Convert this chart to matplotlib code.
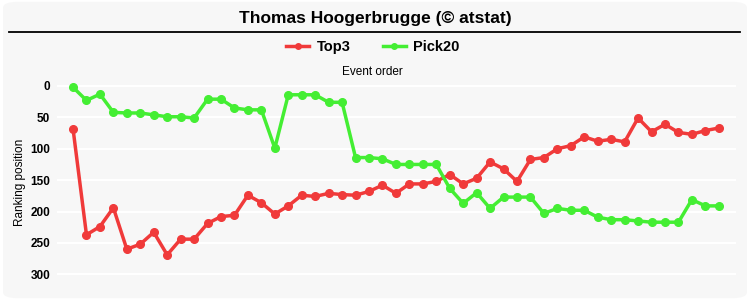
import matplotlib
matplotlib.use('Agg')
import matplotlib.pyplot as plt
from matplotlib.patches import FancyBboxPatch
from matplotlib.lines import Line2D

title = 'Thomas Hoogerbrugge (© atstat)'
series_names = ['Top3', 'Pick20']

top3 = [68, 237, 224, 194, 260, 252, 233, 269, 244, 244, 219, 208, 206, 174,
        186, 204, 191, 174, 176, 171, 173, 174, 168, 158, 171, 156, 156, 152,
        141, 156, 147, 121, 132, 152, 117, 114, 100, 95, 81, 88, 85, 89,
        51, 73, 61, 74, 77, 71, 67]
pick20 = [2, 23, 13, 42, 43, 43, 46, 49, 49, 51, 21, 21, 35, 38,
          38, 99, 14, 14, 14, 26, 26, 114, 114, 116, 125, 125, 125, 125,
          163, 187, 170, 195, 177, 177, 177, 203, 195, 198, 198, 209, 213, 213,
          215, 217, 217, 217, 181, 191, 191]
yticks = [0, 50, 100, 150, 200, 250, 300]

red = '#f03a3a'
green = '#44ee33'
bg = '#f7f7f7'
font = ['Liberation Sans Narrow', 'Liberation Sans', 'DejaVu Sans']
plt.rcParams['font.family'] = font

fig = plt.figure(figsize=(7.5, 3), dpi=100)
fig.patch.set_facecolor('white')
fig.patches.append(FancyBboxPatch((0.004, 0.006), 0.992, 0.988,
                                  boxstyle='round,pad=0,rounding_size=0.02',
                                  transform=fig.transFigure, facecolor=bg,
                                  edgecolor='none', zorder=-5))

ax = fig.add_axes([0.076, 0.0333, 0.905, 0.7167])
ax.set_facecolor(bg)
x = list(range(len(top3)))
ax.plot(x, top3, '-o', color=red, lw=2.5, ms=5.5, zorder=3)
ax.plot(x, pick20, '-o', color=green, lw=2.5, ms=5.5, zorder=3)

ax.set_xlim(-1.19, 49.26)
ax.set_ylim(325, -17.5)
ax.set_yticks(yticks)
ax.set_xticks([])
for s in ax.spines.values():
    s.set_visible(False)
ax.set_axisbelow(True)
ax.grid(axis='y', color='white', lw=1.5)
ax.tick_params(axis='y', length=0, pad=5)
for lb in ax.get_yticklabels():
    lb.set_fontweight('bold')
    lb.set_fontsize(8.5)
    lb.set_family(['Liberation Sans', 'DejaVu Sans'])
ax.set_ylabel('Ranking position', fontsize=8.5,
              family=['Liberation Sans', 'DejaVu Sans'])
ax.yaxis.set_label_coords(-0.046, 0.5)

fig.text(0.5, 0.94, title, ha='center', va='center', fontsize=12.5,
         fontweight='bold')
fig.add_artist(Line2D([0.012, 0.987], [0.893, 0.893], color='black', lw=1.3,
                      transform=fig.transFigure))
fig.text(0.496, 0.76, 'Event order', ha='center', va='center', fontsize=8.5,
         family=['Liberation Sans', 'DejaVu Sans'])

handles = [Line2D([], [], color=red, marker='o', lw=2.5, ms=4),
           Line2D([], [], color=green, marker='o', lw=2.5, ms=4)]
leg = fig.legend(handles, series_names, loc='center', bbox_to_anchor=(0.497, 0.843),
                 ncol=2, frameon=False, handlelength=1.6, columnspacing=2.2,
                 handletextpad=0.5, prop={'weight': 'bold', 'size': 10.5,
                                          'family': font})

fig.savefig('out.png', dpi=100, facecolor='white')
